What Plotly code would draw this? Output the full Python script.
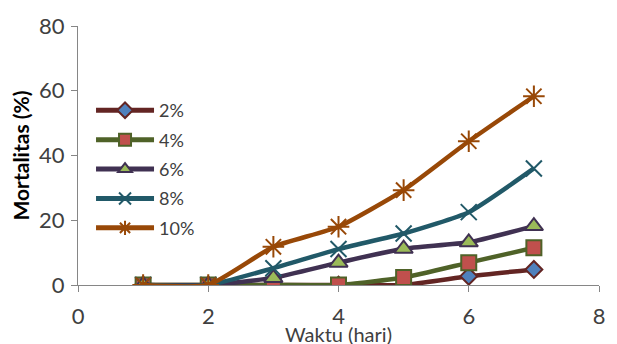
import plotly.graph_objects as go

# Mortality over time for each concentration
days = [1, 2, 3, 4, 5, 6, 7]
series_names = ["2%", "4%", "6%", "8%", "10%"]
mort_2 = [0, 0, 0, 0, 0, 2.7, 4.8]
mort_4 = [0, 0, 0, 0, 2.3, 6.9, 11.5]
mort_6 = [0, 0, 2.2, 6.9, 11.2, 13.2, 18.2]
mort_8 = [0, 0, 5.2, 11.1, 15.9, 22.5, 36.0]
mort_10 = [0, 0, 11.8, 18.0, 29.3, 44.4, 58.3]
x_ticks = [0, 2, 4, 6, 8]
y_ticks = [0, 20, 40, 60, 80]

styles = [
    dict(line="#632523", symbol="diamond", fill="#4F81BD", edge="#632523", size=13),
    dict(line="#4F6228", symbol="square", fill="#C0504D", edge="#4F6228", size=15),
    dict(line="#403152", symbol="triangle-up", fill="#9BBB59", edge="#403152", size=16),
    dict(line="#215968", symbol="x-thin", fill="#215968", edge="#215968", size=16),
    dict(line="#984807", symbol="asterisk", fill="#984807", edge="#984807", size=18),
]
values = [mort_2, mort_4, mort_6, mort_8, mort_10]

fig = go.Figure()
for name, vals, st in zip(series_names, values, styles):
    fig.add_trace(go.Scatter(
        x=days, y=vals, name=name, mode="lines+markers",
        legendgroup=name,
        line=dict(color=st["line"], width=4.5, shape="spline", smoothing=0.5),
        marker=dict(symbol=st["symbol"], size=st["size"], color=st["fill"],
                    line=dict(color=st["edge"], width=2)),
    ))

fig.update_layout(
    width=617, height=344,
    margin=dict(l=78, r=12, t=22, b=59),
    paper_bgcolor="white", plot_bgcolor="white",
    font=dict(family="Lato, 'Open Sans', sans-serif", color="#404040"),
    showlegend=True,
    legend=dict(x=0.025, y=0.745, xanchor="left", yanchor="top",
                bgcolor="rgba(0,0,0,0)", font=dict(size=18, color="#404040"),
                tracegroupgap=3, itemwidth=58, itemsizing="constant"),
    xaxis=dict(range=[0, 8], tickvals=x_ticks, showgrid=False, zeroline=False,
               showline=True, linecolor="#868686", linewidth=1,
               ticks="outside", ticklen=6, tickcolor="#868686",
               ticklabelstandoff=6,
               tickfont=dict(size=22, color="#404040")),
    yaxis=dict(range=[0, 80], tickvals=y_ticks, showgrid=False, zeroline=False,
               showline=True, linecolor="#868686", linewidth=1,
               ticks="outside", ticklen=6, tickcolor="#868686",
               ticklabelstandoff=2,
               tickfont=dict(size=22, color="#404040")),
    annotations=[
        dict(text="Waktu (hari)", xref="paper", yref="paper", x=0.5, y=0,
             xanchor="center", yanchor="middle", yshift=-49, showarrow=False,
             font=dict(size=20, color="#404040")),
        dict(text="<b>Mortalitas (%)</b>", xref="paper", yref="paper", x=0,
             xanchor="center", yanchor="middle", xshift=-58, y=0.5,
             textangle=-90, showarrow=False,
             font=dict(size=21, color="#000000")),
    ],
)

fig.write_html("out.html")
